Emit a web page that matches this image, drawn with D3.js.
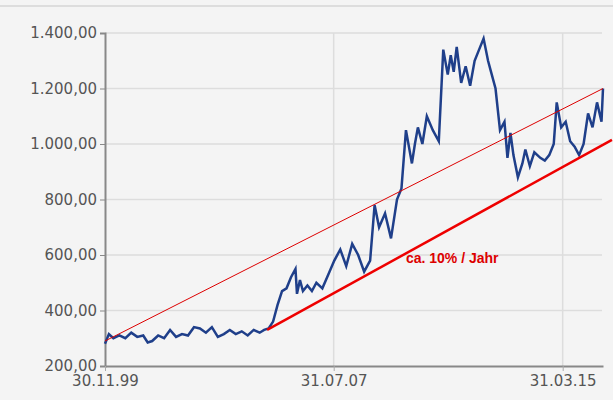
<!DOCTYPE html>
<html><head><meta charset="utf-8">
<script src="https://cdn.jsdelivr.net/npm/d3@7"></script>
<style>body{margin:0;background:#f4f4f4}</style></head>
<body><svg id="c" width="613" height="400"></svg>
<script>
const years = [1999.92,2000.05,2000.2,2000.4,2000.6,2000.8,2001.0,2001.2,2001.35,2001.5,2001.7,2001.9,2002.1,2002.3,2002.5,2002.7,2002.9,2003.1,2003.3,2003.5,2003.7,2003.9,2004.1,2004.3,2004.5,2004.7,2004.9,2005.1,2005.25,2005.4,2005.55,2005.7,2005.85,2006.0,2006.15,2006.3,2006.35,2006.45,2006.55,2006.7,2006.85,2007.0,2007.2,2007.4,2007.6,2007.8,2008.0,2008.2,2008.4,2008.6,2008.8,2008.95,2009.1,2009.3,2009.5,2009.7,2009.85,2010.0,2010.2,2010.3,2010.4,2010.55,2010.7,2010.9,2011.1,2011.25,2011.4,2011.5,2011.6,2011.7,2011.85,2012.0,2012.15,2012.3,2012.45,2012.6,2012.75,2012.85,2013.0,2013.15,2013.3,2013.4,2013.5,2013.6,2013.75,2013.9,2014.0,2014.15,2014.3,2014.5,2014.65,2014.8,2014.95,2015.05,2015.2,2015.35,2015.5,2015.65,2015.8,2015.95,2016.1,2016.25,2016.4,2016.55,2016.6];
const values = [280,315,300,310,300,320,305,310,285,290,310,300,330,305,315,310,340,335,320,340,305,315,330,315,325,310,330,320,330,335,360,420,470,480,520,550,460,510,470,490,470,500,480,530,580,620,560,640,600,540,580,780,700,750,660,800,840,1050,930,1000,1060,1000,1100,1050,1010,1340,1250,1320,1260,1350,1220,1280,1210,1300,1340,1380,1300,1260,1200,1050,1080,950,1040,960,880,930,980,920,970,950,940,960,1000,1150,1060,1080,1010,990,960,1000,1110,1060,1150,1080,1200];
const yTicks = [200,400,600,800,1000,1200,1400];
const xTickLabels = ["30.11.99","31.07.07","31.03.15"];
const xTickYears = [1999.92,2007.58,2015.25];
const trendUpper = [[1999.92,290],[2016.6,1200]];
const trendLower = [[2005.35,330],[2016.9,1015]];

const svg = d3.select("#c");
const x = d3.scaleLinear().domain([1999.92,2016.6]).range([105,603]);
const y = d3.scaleLinear().domain([200,1400]).range([366,33]);
const fmt = v => d3.format(",.2f")(v).replace(/,/g,"#").replace(".",",").replace(/#/g,".");
const FF = "DejaVu Sans, Verdana, sans-serif";
svg.append("line").attr("x1",0).attr("x2",613).attr("y1",6).attr("y2",6).attr("stroke","#ddd").attr("stroke-width",2);
const g = svg.append("g");
yTicks.forEach(t=>{ if(t>200) g.append("line").attr("x1",105).attr("x2",602).attr("y1",y(t)).attr("y2",y(t)).attr("stroke","#ddd").attr("stroke-width",1.5);});
xTickYears.slice(1).forEach(t=>g.append("line").attr("x1",x(t)).attr("x2",x(t)).attr("y1",33).attr("y2",366).attr("stroke","#ddd").attr("stroke-width",1.5));
const ya = svg.append("g").attr("transform","translate(105,0)").call(d3.axisLeft(y).tickValues(yTicks).tickFormat(fmt).tickSize(5));
ya.select(".domain").attr("stroke","#888").attr("stroke-width",2);
ya.selectAll(".tick line").attr("stroke","#888");
ya.selectAll("text").attr("font-family",FF).attr("font-size",15).attr("fill","#555");
const xa = svg.append("g").attr("transform","translate(0,366)").call(d3.axisBottom(x).tickValues(xTickYears).tickFormat((d,i)=>xTickLabels[i]).tickSize(5).tickSizeOuter(0));
xa.select(".domain").attr("stroke","#888").attr("stroke-width",2);
xa.selectAll(".tick line").attr("stroke","#aaa");
xa.selectAll("text").attr("font-family",FF).attr("font-size",15).attr("fill","#555").attr("dy","0.8em");
const line = d3.line().x(d=>x(d[0])).y(d=>y(d[1]));
svg.append("path").datum(years.map((t,i)=>[t,values[i]])).attr("d",line).attr("fill","none").attr("stroke","#1f3f8a").attr("stroke-width",2.5);
svg.append("path").datum(trendUpper).attr("d",line).attr("stroke","#d00").attr("stroke-width",1).attr("fill","none");
svg.append("path").datum(trendLower).attr("d",line).attr("stroke","#e00").attr("stroke-width",2.5).attr("fill","none");
svg.append("text").attr("x",x(2010.0)).attr("y",y(570)).attr("font-family","Arial, Liberation Sans").attr("font-weight","bold").attr("font-size",14).attr("fill","#d00").text("ca. 10% / Jahr");
</script></body></html>
